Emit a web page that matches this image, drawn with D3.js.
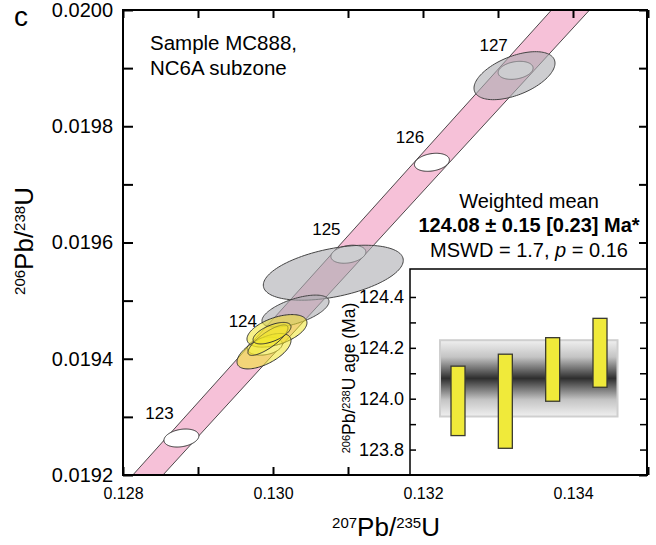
<!DOCTYPE html>
<html>
<head>
<meta charset="utf-8">
<script src="https://cdn.jsdelivr.net/npm/d3@7"></script>
<style>
  body { margin: 0; background: #fff; }
  svg { font-family: "Liberation Sans", Arial, Helvetica, sans-serif; }
</style>
</head>
<body>
<div id="chart"></div>
<script>
// concordia points (207Pb/235U, 206Pb/238U) by age in Ma
var concordiaAges = [122, 123, 124, 125, 126, 127, 128];
var concordiaX = [0.127668, 0.128779, 0.129891, 0.131005, 0.132119, 0.133235, 0.134351];
var concordiaY = [0.0191055, 0.0192636, 0.0194217, 0.0195798, 0.0197380, 0.0198962, 0.0200544];
var concordiaErrX = [0.000195, 0.000205, 0.000215, 0.000226, 0.000236, 0.000247, 0.000257];
var markerAges = [123, 124, 125, 126, 127];
var markerErrX = 0.000233, markerErrY = 0.0000155, markerRho = 0.25;

// analyses: 2 sigma errors and error correlation
var spotX    = [0.130804, 0.130300, 0.133220, 0.130053, 0.129880, 0.129933, 0.129987];
var spotY    = [0.019548, 0.019482, 0.019887, 0.019448, 0.019413, 0.019432, 0.019444];
var spotErrX = [0.000933, 0.000447, 0.000540, 0.000400, 0.000360, 0.000267, 0.000253];
var spotErrY = [0.0000473, 0.0000275, 0.0000413, 0.0000280, 0.0000305, 0.0000262, 0.0000185];
var spotRho  = [0.45, 0.6, 0.52, 0.5, 0.6, 0.8, 0.6];
var spotUsed = [false, false, false, true, true, true, true];

var xTicks = [0.128, 0.129, 0.130, 0.131, 0.132, 0.133, 0.134, 0.135];
var xLabels = [0.128, 0.130, 0.132, 0.134];
var yTicks = [0.0192, 0.0193, 0.0194, 0.0195, 0.0196, 0.0197, 0.0198, 0.0199, 0.0200];
var yLabels = [0.0192, 0.0194, 0.0196, 0.0198, 0.0200];

// inset: weighted mean of 206Pb/238U ages
var meanAge = 124.08, meanErr = 0.15;
var barLow  = [123.855, 123.805, 123.990, 124.045];
var barHigh = [124.128, 124.175, 124.240, 124.316];
var insetTicks = [123.8, 123.9, 124.0, 124.1, 124.2, 124.3, 124.4];
var insetLabels = [123.8, 124.0, 124.2, 124.4];

var W = 656, H = 545;
var L = 123, R = 647, T = 10, B = 475;

var svg = d3.select('#chart').append('svg')
  .attr('width', W).attr('height', H);

var x = d3.scaleLinear().domain([0.128, 0.135]).range([L, L + 525]);
var y = d3.scaleLinear().domain([0.0192, 0.0200]).range([B, T]);

var defs = svg.append('defs');
defs.append('clipPath').attr('id', 'plotClip')
  .append('rect').attr('x', L).attr('y', T).attr('width', R - L).attr('height', B - T);

var grad = defs.append('linearGradient').attr('id', 'meanGrad')
  .attr('x1', 0).attr('y1', 0).attr('x2', 0).attr('y2', 1);
[[0, '#f0f0f0'], [0.22, '#c4c4c4'], [0.5, '#2e2e2e'], [0.78, '#c4c4c4'], [1, '#f0f0f0']]
  .forEach(function(s) {
    grad.append('stop').attr('offset', s[0]).attr('stop-color', s[1]);
  });

function ellipsePath(cx, cy, ex, ey, rho) {
  var px = x(cx), py = y(cy);
  var a = Math.abs(x(cx + ex) - px), b = Math.abs(y(cy + ey) - py);
  var r = -rho; // screen y runs down
  var pts = d3.range(0, 360, 3).map(function(deg) {
    var t = deg * Math.PI / 180;
    return [px + a * Math.cos(t), py + b * (r * Math.cos(t) + Math.sqrt(1 - r * r) * Math.sin(t))];
  });
  return d3.line().curve(d3.curveLinearClosed)(pts);
}

var plot = svg.append('g').attr('clip-path', 'url(#plotClip)');

// concordia band
var bandPts = concordiaAges.map(function(a, i) { return [x(concordiaX[i] - concordiaErrX[i]), y(concordiaY[i])]; })
  .concat(concordiaAges.map(function(a, i) { return [x(concordiaX[i] + concordiaErrX[i]), y(concordiaY[i])]; }).reverse());
plot.append('path')
  .attr('d', d3.line().curve(d3.curveLinearClosed)(bandPts))
  .attr('fill', '#f6c1d8')
  .attr('stroke', '#222')
  .attr('stroke-width', 0.8);

// age markers
markerAges.forEach(function(age) {
  var i = concordiaAges.indexOf(age);
  plot.append('path')
    .attr('d', ellipsePath(concordiaX[i], concordiaY[i], markerErrX, markerErrY, markerRho))
    .attr('fill', '#fff').attr('stroke', '#222').attr('stroke-width', 0.9);
  svg.append('text')
    .attr('x', x(concordiaX[i]) - 22).attr('y', y(concordiaY[i]) - 19)
    .attr('text-anchor', 'middle').attr('font-size', 17)
    .text(age);
});

// analyses: excluded (grey) first, then used (yellow)
spotX.forEach(function(d, i) {
  if (spotUsed[i]) return;
  plot.append('path')
    .attr('d', ellipsePath(spotX[i], spotY[i], spotErrX[i], spotErrY[i], spotRho[i]))
    .attr('fill', 'rgb(172,172,176)').attr('fill-opacity', 0.6)
    .attr('stroke', '#444').attr('stroke-width', 1);
});
spotX.forEach(function(d, i) {
  if (!spotUsed[i]) return;
  plot.append('path')
    .attr('d', ellipsePath(spotX[i], spotY[i], spotErrX[i], spotErrY[i], spotRho[i]))
    .attr('fill', '#f0e62a').attr('fill-opacity', 0.55)
    .attr('stroke', '#333').attr('stroke-width', 1);
});

// axes (ticks point inward)
function fmt(list, f) {
  return function(d) {
    return list.some(function(v) { return Math.abs(v - d) < 1e-9; }) ? f(d) : '';
  };
}
var axL = svg.append('g').attr('transform', 'translate(' + L + ',0)')
  .call(d3.axisLeft(y).tickValues(yTicks).tickSize(-10).tickPadding(10)
    .tickFormat(fmt(yLabels, d3.format('.4f'))));
var axB = svg.append('g').attr('transform', 'translate(0,' + B + ')')
  .call(d3.axisBottom(x).tickValues(xTicks).tickSize(-8).tickPadding(13)
    .tickFormat(fmt(xLabels, d3.format('.3f'))));
var axT = svg.append('g').attr('transform', 'translate(0,' + T + ')')
  .call(d3.axisTop(x).tickValues(xTicks).tickSize(-8).tickFormat(''));
var axR = svg.append('g').attr('transform', 'translate(' + R + ',0)')
  .call(d3.axisRight(y).tickValues(yTicks).tickSize(-8).tickFormat(''));
[axL, axB, axT, axR].forEach(function(g) {
  g.select('.domain').remove();
  g.selectAll('line').attr('stroke', '#000').attr('stroke-width', 2);
  g.selectAll('text').attr('fill', '#000').attr('font-family', null);
});
axL.selectAll('text').attr('font-size', 20);
axB.selectAll('text').attr('font-size', 16);

// isotope ratio titles
function ratioTitle(g, a, b, big, small, rise) {
  var t = g.append('text').attr('text-anchor', 'middle').attr('font-size', big);
  t.append('tspan').attr('font-size', small).attr('dy', -rise).text(a);
  t.append('tspan').attr('dy', rise).text('Pb/');
  t.append('tspan').attr('font-size', small).attr('dy', -rise).text(b);
  t.append('tspan').attr('dy', rise).text('U');
  return t;
}
ratioTitle(svg.append('g').attr('transform', 'translate(386,536)'), '207', '235', 26, 15, 8);
ratioTitle(svg.append('g').attr('transform', 'translate(33,241) rotate(-90)'), '206', '238', 26, 15, 8);

svg.append('text').attr('x', 14).attr('y', 26).attr('font-size', 28).text('c');
svg.append('text').attr('x', 150).attr('y', 50).attr('font-size', 20.5).text('Sample MC888,');
svg.append('text').attr('x', 150).attr('y', 75).attr('font-size', 20.5).text('NC6A subzone');

var info = svg.append('g').attr('text-anchor', 'middle').attr('font-size', 20);
info.append('text').attr('x', 529).attr('y', 208).text('Weighted mean');
info.append('text').attr('x', 529).attr('y', 232).attr('font-weight', 'bold')
  .text('124.08 \u00b1 0.15 [0.23] Ma*');
var ms = info.append('text').attr('x', 529).attr('y', 257);
ms.append('tspan').text('MSWD = 1.7, ');
ms.append('tspan').attr('font-style', 'italic').text('p');
ms.append('tspan').text(' = 0.16');

// inset
var iL = 410, iT = 269;
var yI = d3.scaleLinear().domain([123.70, 124.51]).range([B, iT]);
var xI = d3.scaleLinear().domain([0, 3]).range([458, 600]);
var inset = svg.append('g');
inset.append('rect').attr('x', iL).attr('y', iT).attr('width', R - iL).attr('height', B - iT)
  .attr('fill', '#fff').attr('stroke', '#000').attr('stroke-width', 1.5);
inset.append('rect')
  .attr('x', xI(-0.38)).attr('width', xI(3.37) - xI(-0.38))
  .attr('y', yI(meanAge + meanErr)).attr('height', yI(meanAge - meanErr) - yI(meanAge + meanErr))
  .attr('fill', 'url(#meanGrad)').attr('stroke', '#cfcfcf').attr('stroke-width', 2);
inset.selectAll('rect.bar').data(barLow).enter().append('rect')
  .attr('class', 'bar')
  .attr('x', function(d, i) { return xI(i) - 7; })
  .attr('width', 14)
  .attr('y', function(d, i) { return yI(barHigh[i]); })
  .attr('height', function(d, i) { return yI(barLow[i]) - yI(barHigh[i]); })
  .attr('fill', '#f0ea3a').attr('stroke', '#3a3a30').attr('stroke-width', 1.3);

var iaL = inset.append('g').attr('transform', 'translate(' + iL + ',0)')
  .call(d3.axisLeft(yI).tickValues(insetTicks).tickSize(-6).tickPadding(6)
    .tickFormat(fmt(insetLabels, d3.format('.1f'))));
var iaR = inset.append('g').attr('transform', 'translate(' + R + ',0)')
  .call(d3.axisRight(yI).tickValues(insetTicks).tickSize(-7).tickFormat(''));
[iaL, iaR].forEach(function(g) {
  g.select('.domain').remove();
  g.selectAll('line').attr('stroke', '#000').attr('stroke-width', 1.5);
  g.selectAll('text').attr('fill', '#000').attr('font-family', null).attr('font-size', 18);
});

var it = inset.append('text').attr('text-anchor', 'middle').attr('font-size', 17.5)
  .attr('transform', 'translate(355,' + ((iT + B) / 2 + 6) + ') rotate(-90)');
it.append('tspan').attr('font-size', 11).attr('dy', -5).text('206');
it.append('tspan').attr('dy', 5).text('Pb/');
it.append('tspan').attr('font-size', 11).attr('dy', -5).text('238');
it.append('tspan').attr('dy', 5).text('U age (Ma)');

// plot frame
svg.append('rect').attr('x', L).attr('y', T).attr('width', R - L).attr('height', B - T)
  .attr('fill', 'none').attr('stroke', '#000').attr('stroke-width', 2);
</script>
</body>
</html>
